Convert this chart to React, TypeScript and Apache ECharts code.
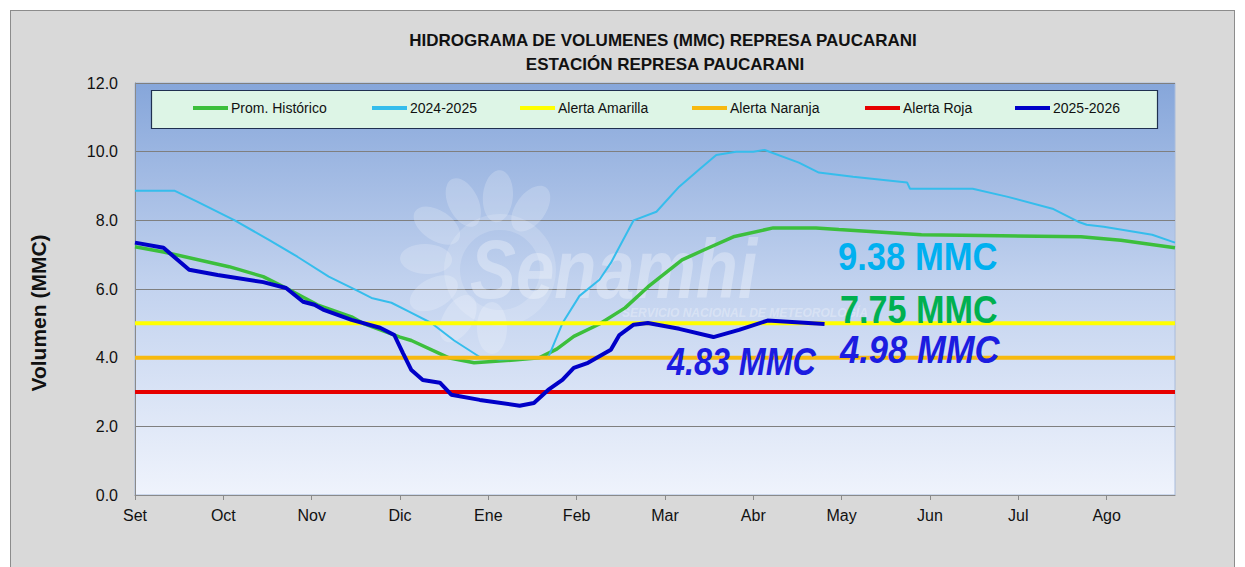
import React, { useEffect, useRef } from "react";
import * as echarts from "echarts";

// ---- Data ----
const MONTHS = ["Set", "Oct", "Nov", "Dic", "Ene", "Feb", "Mar", "Abr", "May", "Jun", "Jul", "Ago"];
const N_DAYS = 366;
const DAYS_PER_TICK = 31;

const SERIES_NAMES = ["Prom. Histórico", "2024-2025", "Alerta Amarilla", "Alerta Naranja", "Alerta Roja", "2025-2026"];

// [day index, volume MMC]
const PROM_HISTORICO: [number, number][] = [
  [0, 7.23], [9.5, 7.08], [33, 6.65], [45, 6.36], [53, 6.03], [64, 5.54], [75.5, 5.19], [80, 5.0],
  [93, 4.6], [96.5, 4.5], [109.5, 4.0], [118.6, 3.85], [132.7, 3.93], [142, 4.0], [148, 4.25],
  [154, 4.62], [163, 4.98], [172, 5.45], [180, 6.06], [192, 6.85], [200, 7.15], [210, 7.52],
  [224, 7.78], [239, 7.78], [247, 7.73], [275.5, 7.58], [303.6, 7.55], [331.7, 7.52], [345.7, 7.42], [365, 7.2],
];

const SERIE_2024_2025: [number, number][] = [
  [0, 8.86], [14, 8.86], [21.8, 8.54], [35.1, 8.0], [47.4, 7.43], [56.9, 6.94], [68.4, 6.36], [77.9, 5.95],
  [82.5, 5.74], [89.5, 5.6], [96, 5.35], [103.5, 5.01], [112, 4.5], [121, 4.02], [128, 3.95], [144.6, 4.0],
  [148, 4.6], [150, 5.0], [156, 5.8], [163, 6.27], [166.7, 6.76], [174.8, 8.0], [183, 8.25], [191, 8.98],
  [198, 9.48], [204, 9.9], [210.6, 10.0], [217, 10.0], [221, 10.05], [233, 9.68], [240, 9.39], [252, 9.27],
  [271, 9.1], [272, 8.92], [294, 8.92], [306, 8.69], [322, 8.34], [331, 7.96], [334, 7.87], [340, 7.81],
  [357, 7.58], [365, 7.35],
];

const SERIE_2025_2026: [number, number][] = [
  [0, 7.35], [9.5, 7.2], [18.6, 6.56], [28.8, 6.41], [45, 6.2], [53, 6.03], [59, 5.63], [62.5, 5.54],
  [66, 5.4], [75.5, 5.1], [86, 4.87], [91.3, 4.66], [94, 4.14], [96.5, 3.64], [101, 3.35], [107, 3.27],
  [110.6, 2.92], [121, 2.77], [135, 2.6], [139.7, 2.68], [144.6, 3.06], [150, 3.35], [153.7, 3.7],
  [158.7, 3.85], [166.7, 4.23], [170, 4.66], [174.8, 4.96], [179.7, 5.01], [191, 4.84], [203, 4.6],
  [212, 4.81], [222, 5.08], [241.5, 4.98],
];

const ALERTA_AMARILLA = 5.0;
const ALERTA_NARANJA = 4.0;
const ALERTA_ROJA = 3.0;

const Y_TICKS = { min: 0, max: 12, interval: 2 };

const TITLE_1 = "HIDROGRAMA DE VOLUMENES (MMC) REPRESA PAUCARANI";
const TITLE_2 = "ESTACIÓN REPRESA PAUCARANI";
const Y_NAME = "Volumen (MMC)";
const ANNOT_2024 = "9.38 MMC";
const ANNOT_HIST = "7.75 MMC";
const ANNOT_2025 = "4.98 MMC";
const ANNOT_MIN = "4.83 MMC";

const COLORS = {
  hist: "#3cbf3c",
  y2425: "#35bdec",
  amarilla: "#ffff00",
  naranja: "#f7b90f",
  roja: "#e60000",
  y2526: "#0000c8",
};

// legend item left edges (layout)
const LEGEND_LEFTS = [193, 372, 520, 692, 865, 1015];

const FONT = "'Liberation Sans', Arial, sans-serif";

function constLine(v: number): [number, number][] {
  return [[0, v], [N_DAYS - 1, v]];
}

function buildPetals() {
  const cx = 492, cy = 262;
  const els: any[] = [];
  const n = 8;
  for (let i = 0; i < n; i++) {
    const a = -0.3 * Math.PI - i * (1.2 * Math.PI) / (n - 1);
    const r = 66;
    els.push({
      type: "ellipse",
      x: cx + Math.cos(a) * r,
      y: cy + Math.sin(a) * r,
      rotation: -a - Math.PI / 2,
      shape: { cx: 0, cy: 0, rx: 15, ry: 26 },
      style: { fill: "rgba(255,255,255,0.2)" },
      z: 1,
      silent: true,
    });
  }
  els.push({
    type: "ring",
    shape: { cx: cx + 8, cy: cy + 8, r: 56, r0: 40 },
    style: { fill: "rgba(255,255,255,0.16)" },
    z: 1,
    silent: true,
  });
  return els;
}

export default function App() {
  const ref = useRef<HTMLDivElement>(null);

  useEffect(() => {
    if (!ref.current) return;
    const chart = echarts.init(ref.current, undefined, { renderer: "svg" });
    const categories = Array.from({ length: N_DAYS }, (_, i) => String(i));

    const lineSeries = (name: string, data: [number, number][], color: string, width: number) => ({
      name,
      type: "line",
      data,
      showSymbol: false,
      symbol: "none",
      smooth: false,
      lineStyle: { color, width },
      itemStyle: { color },
      emphasis: { disabled: true },
    });

    const annot = (text: string, x: number, y: number, color: string, italic: boolean, sx: number) => ({
      type: "text",
      x,
      y,
      scaleX: sx,
      z: 20,
      style: {
        text,
        fill: color,
        font: `${italic ? "italic " : ""}bold 38px ${FONT}`,
        textAlign: "left",
        textVerticalAlign: "middle",
      },
    });

    const legends = SERIES_NAMES.map((name, i) => ({
      left: LEGEND_LEFTS[i],
      top: 101,
      padding: 0,
      itemWidth: 35,
      itemHeight: 4,
      icon: "rect",
      data: [name],
      textStyle: { fontFamily: FONT, fontSize: 14, color: "#111", padding: [0, 0, 0, -2] },
      z: 10,
    }));

    const option: any = {
      animation: false,
      backgroundColor: "transparent",
      grid: {
        left: 135,
        top: 83,
        width: 1040,
        height: 412,
        show: true,
        borderColor: "#a9bcdc",
        borderWidth: 1,
        backgroundColor: new echarts.graphic.LinearGradient(0, 0, 0, 1, [
          { offset: 0, color: "#86a6da" },
          { offset: 0.5, color: "#c3d3ef" },
          { offset: 1, color: "#eff3fc" },
        ]),
      },
      legend: legends,
      xAxis: {
        type: "category",
        data: categories,
        boundaryGap: false,
        axisLine: { lineStyle: { color: "#8a8a8a", width: 1 } },
        axisTick: {
          interval: (i: number) => i % DAYS_PER_TICK === 0,
          length: 5,
          lineStyle: { color: "#8a8a8a" },
        },
        axisLabel: {
          interval: (i: number) => i % DAYS_PER_TICK === 0,
          formatter: (_v: string, i: number) => MONTHS[Math.round(i / DAYS_PER_TICK)] ?? "",
          fontFamily: FONT,
          fontSize: 16,
          color: "#111",
          margin: 12,
        },
        splitLine: { show: false },
      },
      yAxis: {
        type: "value",
        min: Y_TICKS.min,
        max: Y_TICKS.max,
        interval: Y_TICKS.interval,
        axisLine: { show: true, lineStyle: { color: "#8a8a8a" } },
        axisTick: { show: false },
        axisLabel: {
          formatter: (v: number) => v.toFixed(1),
          fontFamily: FONT,
          fontSize: 16,
          color: "#111",
          margin: 17,
        },
        splitLine: { show: true, lineStyle: { color: "#7f7f7f", width: 1 } },
      },
      series: [
        lineSeries(SERIES_NAMES[0], PROM_HISTORICO, COLORS.hist, 3.5),
        lineSeries(SERIES_NAMES[1], SERIE_2024_2025, COLORS.y2425, 2),
        lineSeries(SERIES_NAMES[2], constLine(ALERTA_AMARILLA), COLORS.amarilla, 4),
        lineSeries(SERIES_NAMES[3], constLine(ALERTA_NARANJA), COLORS.naranja, 4),
        lineSeries(SERIES_NAMES[4], constLine(ALERTA_ROJA), COLORS.roja, 4),
        lineSeries(SERIES_NAMES[5], SERIE_2025_2026, COLORS.y2526, 4),
      ],
      graphic: [
        ...buildPetals(),
        {
          type: "text",
          x: 470,
          y: 268,
          scaleX: 0.82,
          z: 1,
          silent: true,
          style: {
            text: "Senamhi",
            fill: "rgba(255,255,255,0.30)",
            font: `italic bold 84px ${FONT}`,
            textAlign: "left",
            textVerticalAlign: "middle",
          },
        },
        {
          type: "text",
          x: 622,
          y: 313,
          z: 1,
          silent: true,
          style: {
            text: "SERVICIO NACIONAL DE METEOROLOGÍA",
            fill: "rgba(255,255,255,0.30)",
            font: `italic bold 12px ${FONT}`,
            textAlign: "left",
            textVerticalAlign: "middle",
          },
        },
        {
          type: "rect",
          z: 5,
          shape: { x: 151.5, y: 90.5, width: 1006, height: 38 },
          style: { fill: "#ddf5e6", stroke: "#1f3050", lineWidth: 1.2 },
        },
        {
          type: "text",
          x: 663,
          y: 40,
          style: { text: TITLE_1, fill: "#111", font: `bold 17px ${FONT}`, textAlign: "center", textVerticalAlign: "middle" },
        },
        {
          type: "text",
          x: 665,
          y: 64,
          style: { text: TITLE_2, fill: "#111", font: `bold 17px ${FONT}`, textAlign: "center", textVerticalAlign: "middle" },
        },
        {
          type: "text",
          x: 38,
          y: 313,
          rotation: Math.PI / 2,
          style: { text: Y_NAME, fill: "#111", font: `bold 21px ${FONT}`, textAlign: "center", textVerticalAlign: "middle" },
        },
        annot(ANNOT_2024, 838, 257, "#00b0f0", false, 0.91),
        annot(ANNOT_HIST, 840, 310, "#00b050", false, 0.9),
        annot(ANNOT_2025, 840, 350, "#1c1ce0", true, 0.91),
        annot(ANNOT_MIN, 667, 362, "#1c1ce0", true, 0.85),
      ],
    };

    chart.setOption(option);
    return () => chart.dispose();
  }, []);

  return (
    <div style={{ position: "fixed", left: 0, top: 0, width: 1245, height: 567, background: "#ffffff", overflow: "hidden" }}>
      <div
        style={{
          position: "absolute",
          left: 10,
          top: 10,
          width: 1225,
          height: 620,
          background: "#d9d9d9",
          border: "1px solid #8c8c8c",
          boxSizing: "border-box",
        }}
      />
      <div ref={ref} style={{ position: "absolute", left: 0, top: 0, width: 1245, height: 567 }} />
    </div>
  );
}
